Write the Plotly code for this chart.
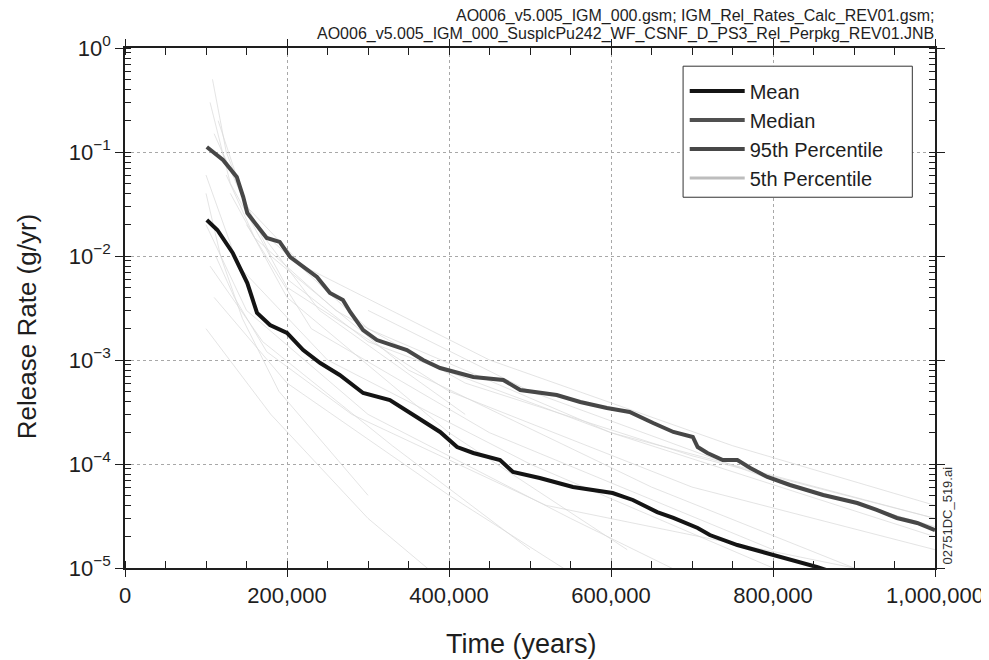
import plotly.graph_objects as go

# ---- data ----
mean_t = [101000, 114000, 133000, 151000, 163000, 179000, 200000, 220000, 241000, 265000,
          294000, 327000, 360000, 389000, 410000, 430000, 463000, 479000, 512000, 553000,
          602000, 627000, 657000, 677000, 707000, 722000, 756000, 793000, 821000, 854000,
          870000, 1000000]
mean_log = [-1.654, -1.750, -1.971, -2.260, -2.548, -2.663, -2.740, -2.904, -3.029, -3.144,
            -3.317, -3.385, -3.548, -3.692, -3.837, -3.894, -3.962, -4.077, -4.135, -4.221,
            -4.279, -4.346, -4.462, -4.519, -4.615, -4.683, -4.779, -4.856, -4.923, -4.990,
            -5.03, -5.3]

p95_t = [101000, 121000, 138000, 146000, 151000, 175000, 191000, 204000, 237000, 253000,
         269000, 278000, 294000, 311000, 348000, 368000, 389000, 430000, 467000, 488000,
         533000, 562000, 595000, 623000, 652000, 677000, 701000, 707000, 719000, 738000,
         756000, 772000, 793000, 821000, 862000, 904000, 928000, 953000, 978000, 990000,
         1000000]
p95_log = [-0.952, -1.077, -1.240, -1.433, -1.587, -1.827, -1.865, -2.010, -2.202, -2.356,
           -2.423, -2.538, -2.712, -2.808, -2.904, -3.000, -3.077, -3.163, -3.192, -3.288,
           -3.337, -3.404, -3.462, -3.500, -3.606, -3.692, -3.740, -3.837, -3.894, -3.962,
           -3.962, -4.038, -4.125, -4.202, -4.298, -4.375, -4.442, -4.519, -4.567, -4.606,
           -4.635]

# Median and 5th percentile lie entirely below the plotted range (legend entries only)
median_t, median_v = [None], [None]
p05_t, p05_v = [None], [None]

# faint individual realizations (rough estimates of the background cloud)
real_t = [
    [105000, 130000, 200000, 400000, 700000, 1000000],
    [110000, 160000, 300000, 600000, 1000000],
    [100000, 140000, 250000, 500000, 800000],
    [120000, 180000, 350000, 650000, 900000],
    [100000, 150000, 300000, 550000, 700000],
    [130000, 200000, 400000, 620000],
    [105000, 170000, 330000, 500000],
    [150000, 230000, 450000, 800000],
    [110000, 200000, 400000, 550000],
    [200000, 300000, 600000, 1000000],
    [115000, 150000, 220000, 450000, 750000, 1000000],
    [100000, 180000, 300000, 380000],
    [300000, 500000, 800000, 1000000],
    [125000, 160000, 260000, 420000, 700000, 1000000],
    [108000, 125000, 160000, 240000, 420000],
    [100000, 118000, 145000, 190000, 300000],
    [112000, 135000, 175000, 280000, 520000, 900000],
]
real_v = [
    [0.3, 0.05, 5e-3, 5e-4, 6e-5, 1.5e-5],
    [0.15, 0.02, 2e-3, 2e-4, 3e-5],
    [0.06, 8e-3, 1e-3, 1e-4, 1e-5],
    [0.1, 0.01, 8e-4, 6e-5, 1e-5],
    [0.02, 3e-3, 3e-4, 3e-5, 8e-6],
    [0.04, 4e-3, 2e-4, 1.5e-5],
    [8e-3, 1.5e-3, 1.5e-4, 1.5e-5],
    [0.02, 2e-3, 2e-4, 1.5e-5],
    [4e-3, 6e-4, 5e-5, 9e-6],
    [6e-3, 1.5e-3, 2e-4, 2e-5],
    [0.2, 0.03, 8e-3, 1e-3, 1.5e-4, 4e-5],
    [2e-3, 3e-4, 3e-5, 9e-6],
    [3e-3, 5e-4, 7e-5, 2.5e-5],
    [0.06, 0.015, 3e-3, 6e-4, 1.2e-4, 3e-5],
    [0.5, 0.1, 0.02, 3e-3, 3e-4],
    [0.04, 0.01, 2.5e-3, 5e-4, 5e-5],
    [0.01, 4e-3, 1.2e-3, 3e-4, 4e-5, 1e-5],
]

x_ticks = [0, 200000, 400000, 600000, 800000, 1000000]
x_ticklabels = ["0", "200,000", "400,000", "600,000", "800,000", "1,000,000"]
y_ticks = [1, 1e-1, 1e-2, 1e-3, 1e-4, 1e-5]
y_ticklabels = ["10<sup>0</sup>", "10<sup>−1</sup>", "10<sup>−2</sup>",
                "10<sup>−3</sup>", "10<sup>−4</sup>", "10<sup>−5</sup>"]

header_lines = ["AO006_v5.005_IGM_000.gsm; IGM_Rel_Rates_Calc_REV01.gsm;",
                "AO006_v5.005_IGM_000_SusplcPu242_WF_CSNF_D_PS3_Rel_Perpkg_REV01.JNB"]

FONT = "Liberation Sans, Arial, sans-serif"
INK = "#1e1e1e"

fig = go.Figure()

for t, v in zip(real_t, real_v):
    fig.add_trace(go.Scatter(x=t, y=v, mode="lines", showlegend=False, hoverinfo="skip",
                             line=dict(color="#d8d8d8", width=0.7)))

fig.add_trace(go.Scatter(x=mean_t, y=[10 ** l for l in mean_log], mode="lines", name="Mean",
                         line=dict(color="#141414", width=4)))
fig.add_trace(go.Scatter(x=median_t, y=median_v, mode="lines", name="Median",
                         line=dict(color="#505050", width=4)))
fig.add_trace(go.Scatter(x=p95_t, y=[10 ** l for l in p95_log], mode="lines", name="95th Percentile",
                         line=dict(color="#474747", width=4)))
fig.add_trace(go.Scatter(x=p05_t, y=p05_v, mode="lines", name="5th Percentile",
                         line=dict(color="#bdbdbd", width=3)))

# the page body adds an 8 px offset, so the figure is 8 px smaller on each axis
fig.update_layout(
    width=981, height=652,
    margin=dict(l=117, r=54, t=40, b=92),
    paper_bgcolor="white", plot_bgcolor="white",
    font=dict(family=FONT, color=INK),
    showlegend=True,
    legend=dict(x=0.691, y=0.955, xanchor="left", yanchor="top",
                bgcolor="rgba(0,0,0,0)", borderwidth=0,
                font=dict(size=20, family=FONT, color=INK),
                tracegroupgap=0, itemwidth=55),
    xaxis=dict(range=[0, 1000000], tickvals=x_ticks, ticktext=x_ticklabels,
               tickfont=dict(size=22), ticks="outside", ticklen=7, tickcolor=INK,
               showline=True, linecolor=INK, linewidth=1.5, mirror="allticks",
               showgrid=True, gridcolor="#a8a8a8", griddash="dot", gridwidth=1,
               zeroline=False, automargin=False,
               minor=dict(dtick=50000, ticks="inside", ticklen=7, tickcolor=INK, showgrid=False)),
    yaxis=dict(type="log", range=[-5, 0], tickvals=y_ticks, ticktext=y_ticklabels,
               tickfont=dict(size=22), ticks="outside", ticklen=8, tickcolor=INK,
               showline=True, linecolor=INK, linewidth=1.5, mirror="allticks",
               showgrid=True, gridcolor="#a8a8a8", griddash="dot", gridwidth=1,
               zeroline=False, automargin=False,
               minor=dict(dtick="D1", ticks="inside", ticklen=6, tickcolor=INK, showgrid=False)),
    shapes=[
        dict(type="rect", xref="paper", yref="paper", x0=0.689, x1=0.972, y0=0.713, y1=0.965,
             fillcolor="white", line=dict(color="#333", width=1), layer="above"),
    ],
    annotations=[
        dict(text=header_lines[0], xref="paper", yref="paper", x=1.0, y=1.0625,
             xanchor="right", yanchor="middle", showarrow=False, borderpad=0,
             font=dict(size=16, family=FONT, color=INK)),
        dict(text=header_lines[1], xref="paper", yref="paper", x=1.0, y=1.027,
             xanchor="right", yanchor="middle", showarrow=False, borderpad=0,
             font=dict(size=16, family=FONT, color=INK)),
        dict(text="02751DC_519.ai", xref="paper", yref="paper", x=1.0, y=0.1,
             xanchor="left", yanchor="middle", textangle=-90, showarrow=False, xshift=2,
             font=dict(size=13, family=FONT, color="#333")),
        dict(text="Time (years)", xref="paper", yref="paper", x=0.489, y=-0.146,
             xanchor="center", yanchor="middle", showarrow=False,
             font=dict(size=27, family=FONT, color=INK)),
        dict(text="Release Rate (g/yr)", xref="paper", yref="paper", x=-0.121, y=0.465,
             xanchor="center", yanchor="middle", textangle=-90, showarrow=False,
             font=dict(size=26, family=FONT, color=INK)),
    ],
)

fig.write_html("out.html")
